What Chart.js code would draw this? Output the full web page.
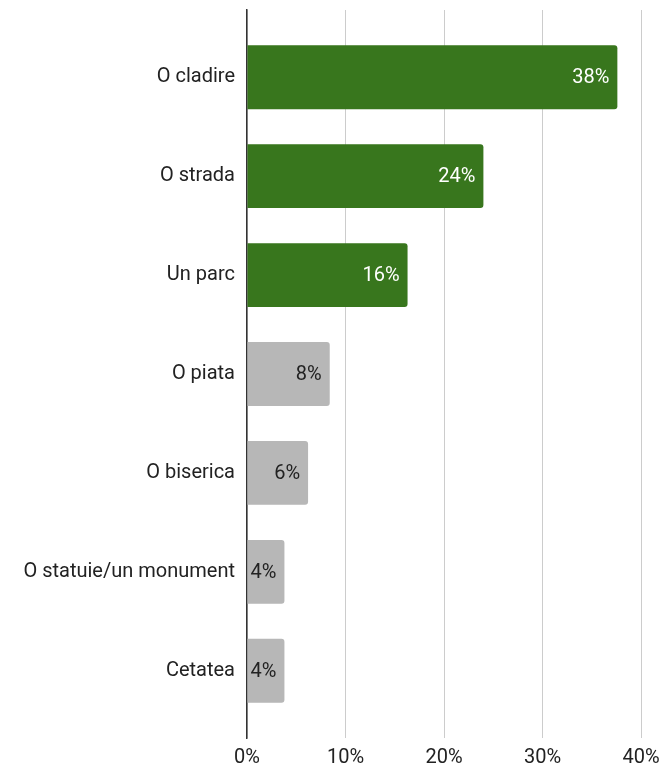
<!DOCTYPE html>
<html>
<head>
<meta charset="utf-8">
<script src="https://cdn.jsdelivr.net/npm/chart.js@4"></script>
<style>
  html, body { margin: 0; padding: 0; background: #fff; }
  #wrap { width: 662px; height: 767px; }
</style>
</head>
<body>
<div id="wrap"><canvas id="chart"></canvas></div>
<script>
// categories and values (percent)
const categories = ['O cladire', 'O strada', 'Un parc', 'O piata', 'O biserica', 'O statuie/un monument', 'Cetatea'];
const values = [37.6, 24.0, 16.3, 8.4, 6.2, 3.8, 3.8];
const valueLabels = ['38%', '24%', '16%', '8%', '6%', '4%', '4%'];
const xTicks = [0, 10, 20, 30, 40];

const green = '#38761d';
const gray = '#b7b7b7';
const barColors = values.map((v, i) => i < 3 ? green : gray);
const labelColors = values.map((v, i) => i < 3 ? '#ffffff' : '#222222');

// 数值标签插件
const valueLabelPlugin = {
  id: 'valueLabels',
  afterDatasetsDraw(chart) {
    const ctx = chart.ctx;
    const meta = chart.getDatasetMeta(0);
    ctx.save();
    ctx.font = '20px Roboto';
    ctx.textAlign = 'right';
    ctx.textBaseline = 'middle';
    meta.data.forEach((bar, i) => {
      ctx.fillStyle = labelColors[i];
      ctx.fillText(valueLabels[i], bar.x - 8, bar.y + 1);
    });
    ctx.restore();
  }
};

const ctx = document.getElementById('chart').getContext('2d');
new Chart(ctx, {
  type: 'bar',
  data: {
    datasets: [{
      data: values.map((v, i) => ({ x: v, y: i })),
      backgroundColor: barColors,
      borderRadius: 3,
      borderSkipped: 'start',
      categoryPercentage: 1,
      barPercentage: 0.646
    }]
  },
  options: {
    indexAxis: 'y',
    responsive: true,
    maintainAspectRatio: false,
    animation: false,
    layout: { padding: { top: 10, right: 21, left: 0, bottom: 0 } },
    plugins: {
      legend: { display: false },
      tooltip: { enabled: false }
    },
    scales: {
      x: {
        type: 'linear',
        min: 0,
        max: 40,
        afterBuildTicks: (scale) => { scale.ticks = xTicks.map(v => ({ value: v })); },
        afterFit: (scale) => {
          scale.height = 29;
          scale.paddingLeft = 0;
          scale.paddingRight = 0;
        },
        ticks: {
          callback: (v) => v + '%',
          color: '#222',
          font: { family: 'Roboto', size: 20 },
          padding: 8
        },
        grid: { color: '#cccccc', lineWidth: 1, drawTicks: false },
        border: { display: false }
      },
      y: {
        type: 'linear',
        reverse: true,
        offset: false,
        min: -0.68,
        max: 6.68,
        afterBuildTicks: (scale) => { scale.ticks = categories.map((c, i) => ({ value: i })); },
        afterFit: (scale) => {
          scale.width = 247;
          scale.paddingTop = 0;
          scale.paddingBottom = 0;
        },
        ticks: {
          callback: (v) => categories[v],
          color: '#222',
          font: { family: 'Roboto', size: 20 },
          padding: 12
        },
        grid: { display: false, drawTicks: false },
        border: { display: true, color: '#333333', width: 1.5 }
      }
    }
  },
  plugins: [valueLabelPlugin]
});
</script>
</body>
</html>
